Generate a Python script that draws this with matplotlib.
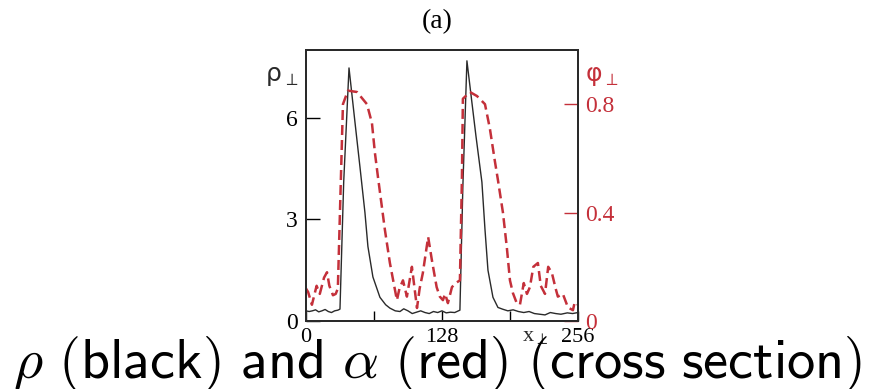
import matplotlib
matplotlib.use('Agg')
import matplotlib.pyplot as plt

# cross-section profiles along x_perp
rho_x = [0, 3, 6, 9, 12, 15, 18, 21, 24, 27, 30, 32, 35.5, 40.5, 46, 50.8, 55.5, 58.3,
         63, 69.6, 75, 79, 84, 88.5, 92, 96, 100, 104, 108, 112, 116, 120, 124, 128,
         132, 136, 140, 144.9, 147.7, 151.5, 156, 160, 165.6, 168.5, 171.3, 176, 180.7,
         185, 190, 195, 200, 205, 210, 215, 220, 225, 230, 235, 240, 246, 251, 256]
rho_y = [0.30, 0.28, 0.30, 0.33, 0.27, 0.30, 0.34, 0.28, 0.25, 0.30, 0.32, 0.35, 4.1, 7.47,
         5.9, 4.55, 3.2, 2.2, 1.3, 0.7, 0.48, 0.38, 0.30, 0.28, 0.36, 0.30, 0.22, 0.26,
         0.30, 0.25, 0.22, 0.28, 0.25, 0.30, 0.24, 0.26, 0.25, 0.32, 4.0, 7.68, 6.5, 5.46,
         4.1, 2.7, 1.5, 0.7, 0.40, 0.35, 0.30, 0.33, 0.28, 0.25, 0.28, 0.22, 0.20, 0.18,
         0.25, 0.22, 0.20, 0.24, 0.22, 0.25]

phi_x = [0, 2, 5.6, 10, 13, 17, 19.8, 22, 25.4, 28, 30, 34.8, 39.5, 48, 57.4, 62.1, 64.9,
         67.8, 74.3, 79, 83.8, 85.6, 88, 91.3, 95, 99.7, 104.5, 107, 110, 115, 118.5,
         123, 126, 128.9, 131, 133.6, 137.4, 141, 144.9, 146.8, 147.7, 154.3, 161,
         168.5, 173.1, 177.8, 180.7, 185.4, 189.1, 192, 194.8, 198, 201.4, 205, 208,
         210.8, 214, 218.3, 221, 225, 228, 231.5, 235, 237.1, 241.8, 246.6, 251.3,
         253, 256]
phi_y = [0.12, 0.107, 0.06, 0.13, 0.10, 0.16, 0.18, 0.13, 0.095, 0.10, 0.12, 0.80, 0.85,
         0.845, 0.80, 0.73, 0.62, 0.53, 0.336, 0.214, 0.114, 0.077, 0.12, 0.15, 0.09,
         0.20, 0.048, 0.12, 0.177, 0.31, 0.225, 0.125, 0.09, 0.077, 0.10, 0.066, 0.125,
         0.14, 0.15, 0.53, 0.82, 0.845, 0.83, 0.80, 0.71, 0.59, 0.52, 0.40, 0.27, 0.15,
         0.103, 0.07, 0.06, 0.14, 0.10, 0.125, 0.20, 0.214, 0.13, 0.10, 0.20, 0.177,
         0.12, 0.09, 0.10, 0.05, 0.04, 0.07, 0.06]

x_ticks = [0, 64, 128, 192, 256]
x_ticklabels = ['0', '', '128', '', '256']
rho_ticks = [0, 3, 6]
phi_ticks = [0, 0.4, 0.8]

RED = '#c4303a'
INK = '#2a2a2a'
SERIF = 'Liberation Serif'
TICK_FS = 17

plt.rcParams['mathtext.fontset'] = 'cm'

fig = plt.figure(figsize=(8.7, 3.89), dpi=100)
ax = fig.add_axes([0.3517, 0.1748, 0.3126, 0.6967])
ax2 = ax.twinx()

ax.plot(rho_x, rho_y, color=INK, lw=1.0)
ax2.plot(phi_x, phi_y, color=RED, lw=1.8, dashes=(4, 2))

ax.set_xlim(0, 256)
ax.set_ylim(0, 8)
ax2.set_ylim(0, 1.0)

ax.set_xticks(x_ticks)
ax.set_xticklabels(x_ticklabels, fontfamily=SERIF, fontsize=TICK_FS - 1)
ax.set_yticks(rho_ticks)
ax.set_yticklabels([str(t) for t in rho_ticks], fontfamily=SERIF, fontsize=TICK_FS)
ax2.set_yticks(phi_ticks)
ax2.set_yticklabels(['0', '0.4', '0.8'], fontfamily=SERIF, fontsize=TICK_FS, color=RED)

ax.tick_params(axis='x', direction='in', length=7, width=1, pad=5)
ax.tick_params(axis='y', direction='in', length=10, width=1, pad=6)
ax2.tick_params(axis='y', direction='in', length=10, width=1, pad=5, color=RED)

for a in (ax, ax2):
    for sp in a.spines.values():
        sp.set_linewidth(1.4)
        sp.set_color(INK)

# axis captions
fig.text(0.343, 0.805, r'ρ$_{\perp}$', fontsize=18, ha='right', va='center',
         fontfamily='DejaVu Sans', color=INK)
fig.text(0.672, 0.805, r'φ$_{\perp}$', fontsize=18, ha='left', va='center',
         fontfamily='DejaVu Sans', color=RED)
ax.text(0.845, -0.025, r'x$_{\perp}$', transform=ax.transAxes, fontsize=TICK_FS - 1,
        fontfamily=SERIF, ha='center', va='top', color=INK)
fig.text(0.503, 0.945, '(a)', fontsize=20, fontfamily=SERIF, ha='center', va='center')

fig.text(0.503, 0.028,
         r'$\rho\ \mathsf{(black)\ and}\ \alpha\ \mathsf{(red)\ (cross\ section)}$',
         fontsize=40.5, ha='center', va='baseline')

fig.savefig('out.png', dpi=100)
